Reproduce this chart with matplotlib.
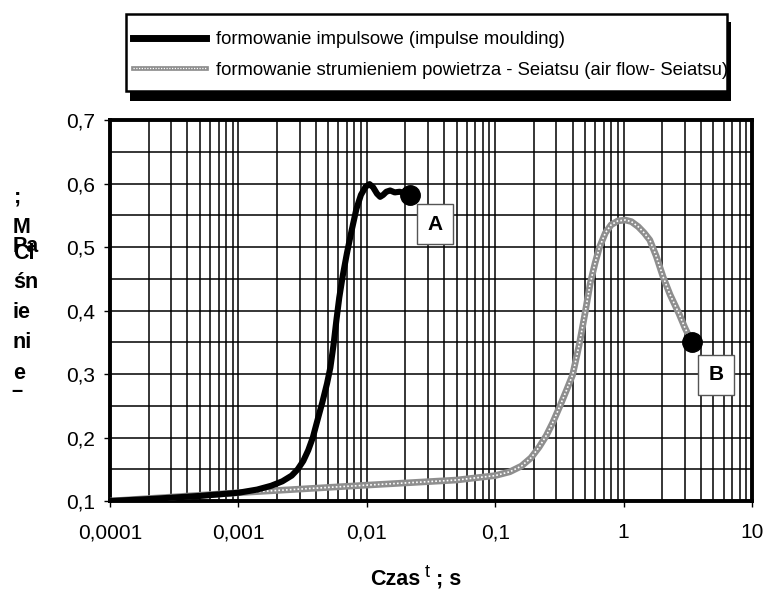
import matplotlib
matplotlib.use("Agg")
import matplotlib.pyplot as plt
from matplotlib.ticker import MultipleLocator, LogLocator, FixedLocator, FixedFormatter
from matplotlib.patches import Rectangle
from matplotlib.legend_handler import HandlerTuple

plt.rcParams['font.family'] = ['Liberation Sans', 'DejaVu Sans']

# impulse moulding: time [s], pressure [MPa]
impulse_t = [0.0001, 0.0002, 0.0005, 0.001, 0.0014, 0.0018, 0.0022, 0.0026, 0.0029,
             0.0032, 0.0035, 0.0038, 0.0041, 0.0045, 0.0049, 0.0052, 0.0055, 0.0058,
             0.0061, 0.0065, 0.0070, 0.0076, 0.0083, 0.0090, 0.0098, 0.0105, 0.0112,
             0.0120, 0.0127, 0.0134, 0.0142, 0.0152, 0.0165, 0.0180, 0.0197, 0.0217]
impulse_p = [0.100, 0.103, 0.108, 0.113, 0.118, 0.124, 0.131, 0.140, 0.150,
             0.163, 0.180, 0.200, 0.225, 0.255, 0.285, 0.310, 0.345, 0.385,
             0.420, 0.455, 0.490, 0.525, 0.560, 0.582, 0.595, 0.599, 0.594,
             0.584, 0.579, 0.582, 0.587, 0.589, 0.586, 0.587, 0.585, 0.582]

# air flow (Seiatsu): time [s], pressure [MPa]
seiatsu_t = [0.0001, 0.001, 0.01, 0.05, 0.1, 0.13, 0.16, 0.19, 0.22, 0.25, 0.28,
             0.32, 0.36, 0.40, 0.45, 0.50, 0.55, 0.60, 0.65, 0.72, 0.80, 0.90,
             1.03, 1.15, 1.3, 1.45, 1.6, 1.8, 2.03, 2.3, 2.7, 3.0, 3.4]
seiatsu_p = [0.100, 0.113, 0.125, 0.133, 0.140, 0.146, 0.155, 0.168, 0.185, 0.203, 0.223,
             0.250, 0.275, 0.298, 0.345, 0.395, 0.443, 0.475, 0.500, 0.522, 0.535, 0.541,
             0.5425, 0.540, 0.532, 0.522, 0.511, 0.485, 0.453, 0.425, 0.395, 0.373, 0.350]

x_ticks = [0.0001, 0.001, 0.01, 0.1, 1, 10]
x_tick_labels = ['0,0001', '0,001', '0,01', '0,1', '1', '10']
y_ticks = [0.1, 0.2, 0.3, 0.4, 0.5, 0.6, 0.7]
y_tick_labels = ['0,1', '0,2', '0,3', '0,4', '0,5', '0,6', '0,7']

series_names = ['formowanie impulsowe (impulse moulding)',
                'formowanie strumieniem powietrza - Seiatsu (air flow- Seiatsu)']
point_names = ['A', 'B']

W, H = 765, 590


def fx(px):
    return px / W


def fy(py):
    return 1 - py / H


fig = plt.figure(figsize=(W / 100, H / 100), dpi=100)
ax = fig.add_axes([fx(110), fy(501), (752 - 110) / W, (501 - 120) / H])
ax.set_xscale('log')
ax.set_xlim(x_ticks[0], x_ticks[-1])
ax.set_ylim(y_ticks[0], y_ticks[-1])

ax.xaxis.set_major_locator(FixedLocator(x_ticks))
ax.xaxis.set_major_formatter(FixedFormatter(x_tick_labels))
ax.xaxis.set_minor_locator(LogLocator(base=10, subs=range(2, 10), numticks=20))
ax.yaxis.set_major_locator(FixedLocator(y_ticks))
ax.yaxis.set_major_formatter(FixedFormatter(y_tick_labels))
ax.yaxis.set_minor_locator(MultipleLocator(0.05))

ax.grid(which='both', color='black', lw=1.1)
ax.tick_params(which='major', length=4, width=1, labelsize=15)
ax.tick_params(axis='x', pad=12)
ax.tick_params(axis='y', pad=7)
ax.tick_params(which='minor', length=0)
for s in ax.spines.values():
    s.set_linewidth(2.8)

# curves
l_imp, = ax.plot(impulse_t, impulse_p, color='black', lw=4.4,
                 solid_capstyle='round', solid_joinstyle='round', zorder=4)
g_base, = ax.plot(seiatsu_t, seiatsu_p, color='#8e8e8e', lw=4.8,
                  solid_capstyle='round', solid_joinstyle='round', zorder=3)
g_dots, = ax.plot(seiatsu_t, seiatsu_p, color='white', lw=1.2, ls=(0, (1, 1.3)), zorder=3.5)

# end points
ax.plot(impulse_t[-1], impulse_p[-1], 'o', color='black', ms=14, zorder=5)
ax.plot(seiatsu_t[-1], seiatsu_p[-1], 'o', color='black', ms=14, zorder=5)

box = dict(boxstyle='square,pad=0.5', fc='white', ec='#555555', lw=1)
ax.text(0.034, 0.536, point_names[0], fontsize=15, fontweight='bold',
        ha='center', va='center', bbox=box, zorder=6)
ax.text(5.25, 0.299, point_names[1], fontsize=15, fontweight='bold',
        ha='center', va='center', bbox=box, zorder=6)

# legend frame with a hard shadow
fig.add_artist(Rectangle((fx(130), fy(101)), fx(731) - fx(130), fy(22) - fy(101),
                         transform=fig.transFigure, fc='black', ec='none'))
fig.add_artist(Rectangle((fx(126), fy(91)), fx(727) - fx(126), fy(14) - fy(91),
                         transform=fig.transFigure, fc='white', ec='black', lw=1.8))

leg_imp, = ax.plot([], [], color='black', lw=5)
leg_base, = ax.plot([], [], color='#8e8e8e', lw=3.4)
leg_dots, = ax.plot([], [], color='white', lw=0.9, ls=(0, (1, 1.2)))
leg = fig.legend([leg_imp, (leg_base, leg_dots)], series_names,
                 handler_map={tuple: HandlerTuple(ndivide=1, pad=0)},
                 loc='upper left', bbox_to_anchor=(fx(133), fy(31)),
                 frameon=False, fontsize=13.3, handlelength=3.95, handletextpad=0.55,
                 labelspacing=0.75, borderaxespad=0, borderpad=0)

# stacked y label
ylab = [(';', 14, 203), ('M', 13, 233), ('Pa', 13, 252), ('Ci', 13, 259),
        ('śn', 13, 288), ('ie', 13, 318), ('ni', 13, 348), ('e', 13, 379),
        ('‾', 13, 408)]
for s, px, py in ylab:
    fig.text(fx(px), fy(py), s, fontsize=15.5, fontweight='bold', ha='left', va='baseline')

# x label with raised t
fig.text(fx(370), fy(585), 'Czas', fontsize=15.5, fontweight='bold', ha='left', va='baseline')
fig.text(fx(425), fy(577), 't', fontsize=13, ha='left', va='baseline')
fig.text(fx(436), fy(585), '; s', fontsize=15.5, fontweight='bold', ha='left', va='baseline')

fig.savefig('out.png', dpi=100)
